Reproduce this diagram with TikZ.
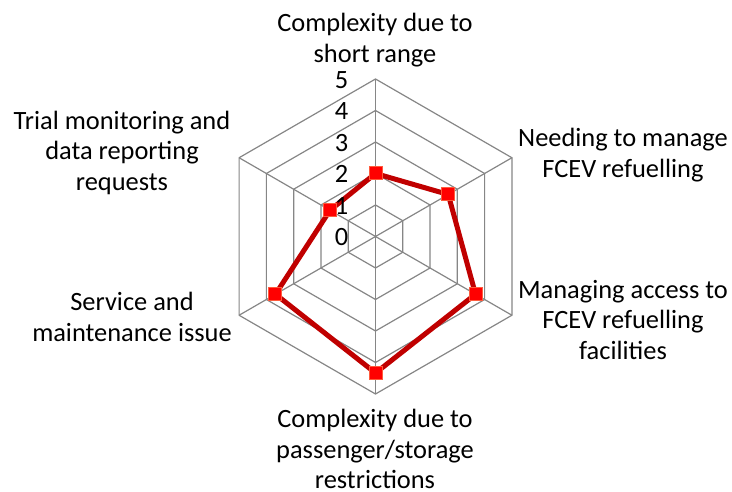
\documentclass[tikz,border=0pt]{standalone}
\usepackage{fontspec}
\setmainfont{Carlito}
\definecolor{gridgray}{RGB}{134,134,134}
\definecolor{serieslinec}{RGB}{192,0,0}
\definecolor{markfill}{RGB}{255,0,0}
\definecolor{markdraw}{RGB}{255,90,60}
\pgfdeclarelayer{gridlayer}
\pgfdeclarelayer{linelayer}
\pgfsetlayers{gridlayer,linelayer,main}
\newcommand{\ls}{\strut}
\begin{document}
\begin{tikzpicture}[x=1bp,y=1bp,
  gridline/.style={draw=gridgray,line width=1.2bp},
  serieslink/.style={draw=serieslinec,line width=5bp,line join=miter},
  datamark/.style={rectangle,fill=markfill,draw=markdraw,line width=1bp,minimum size=13bp,inner sep=0pt},
  catlabel/.style={align=center,font=\fontsize{26.4bp}{30.5bp}\selectfont,inner sep=0pt},
  ticklabel/.style={font=\fontsize{26.4bp}{30.5bp}\selectfont,inner sep=0pt,anchor=base}]
\useasboundingbox (0,0) rectangle (732,492);
\begin{scope}[shift={(375.5,255.5)}]
  \coordinate (c) at (0,0);
  \begin{pgfonlayer}{gridlayer}
  \foreach \k in {1,...,5}{
    \draw[gridline] (90:\k*31.5) -- (30:\k*31.5) -- (-30:\k*31.5) -- (-90:\k*31.5) -- (-150:\k*31.5) -- (150:\k*31.5) -- cycle;
  }
  \foreach \a [count=\i] in {90,30,-30,-90,-150,150}{
    \coordinate (s\i) at (\a:157.5);
    \draw[gridline] (c) -- (s\i);
  }
  \end{pgfonlayer}
  \foreach \k in {0,...,5}{
    \node[ticklabel] (t\k) at (-34,\k*31.5-9.5) {\k};
  }
  \node[datamark] (p1) at (90:2*31.5) {};
  \node[datamark] (p2) at (30:2.6667*31.5) {};
  \node[datamark] (p3) at (-30:3.6667*31.5) {};
  \node[datamark] (p4) at (-90:4.3333*31.5) {};
  \node[datamark] (p5) at (-150:3.6667*31.5) {};
  \node[datamark] (p6) at (150:1.6667*31.5) {};
\end{scope}
\begin{pgfonlayer}{linelayer}
\draw[serieslink] (p1.center) -- (p2.center) -- (p3.center) -- (p4.center) -- (p5.center) -- (p6.center) -- cycle;
\end{pgfonlayer}
\node[catlabel] (l1) at (375,451.2) {\ls Complexity due to\\\ls short range};
\node[catlabel] (l2) at (623,336.2) {\ls Needing to manage\\\ls FCEV refuelling};
\node[catlabel] (l3) at (623,169.3) {\ls Managing access to\\\ls FCEV refuelling\\\ls facilities};
\node[catlabel] (l4) at (375,44.2) {\ls Complexity due to\\\ls passenger/storage\\restrictions};
\node[catlabel] (l5) at (132,172.3) {\ls Service and\\\ls maintenance issue};
\node[catlabel] (l6) at (122,338.3) {\ls Trial monitoring and\\\ls data reporting\\\ls requests};
\end{tikzpicture}
\end{document}
